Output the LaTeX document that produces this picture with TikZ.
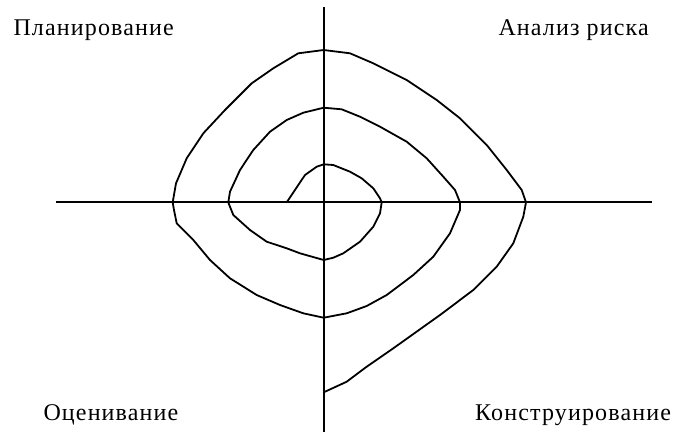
\documentclass[tikz,border=0pt]{standalone}
\usepackage{fontspec}
\setmainfont{Liberation Serif}
\newfontfamily\lblfont[LetterSpace=4.8]{Liberation Serif}
\begin{document}
\begin{tikzpicture}[x=1pt,y=-1pt,
  axis/.style={line width=1.7pt},
  spir/.style={line width=1.8pt,line join=round,line cap=round},
  lbl/.style={font=\lblfont\fontsize{24}{28}\selectfont,inner sep=0pt,anchor=base west}]
\useasboundingbox (0,0) rectangle (674,432);
\coordinate (hl) at (56,202.3);
\coordinate (hr) at (652,202.3);
\coordinate (vt) at (323.7,7);
\coordinate (vb) at (323.7,432);
\draw[axis] (hl) -- (hr);
\draw[axis] (vt) -- (vb);
\draw[spir] (286.7,202.3) -- (305,175) -- (316.7,166.7) -- (323.7,164.3) -- (333.3,165) -- (350,171.7) -- (361.7,178.3) -- (373.3,188.3) -- (380,198.3) -- (381.7,202.3)
 -- (380,213.3) -- (373.3,226.7) -- (360,241.7) -- (343.3,253.3) -- (333.3,257.7) -- (323.7,260) -- (300,253.3) -- (286.7,248.3) -- (266.7,241.7) -- (250,230) -- (233.3,215) -- (229.3,205) -- (228.3,202.3)
 -- (230,191.7) -- (240,170) -- (253.3,150) -- (270,131.7) -- (286.7,120) -- (303.3,112.7) -- (323.7,107.7) -- (341.7,109.3) -- (360,116.7) -- (380,126.7) -- (406.7,141.7) -- (426.7,158.3) -- (443.3,176.7) -- (455,190) -- (460,202.3)
 -- (460,210) -- (450,233.3) -- (433.3,256.7) -- (413.3,275) -- (386.7,295) -- (366.7,306) -- (346.7,313.3) -- (323.7,317.7) -- (303.3,313.3) -- (280,305) -- (256.7,295) -- (230,278.3) -- (210,260) -- (193.3,240) -- (176.7,223.3) -- (174,210) -- (172.7,202.3)
 -- (176,183.3) -- (186.7,158.3) -- (203.3,133.3) -- (225,110) -- (251.7,83.3) -- (273.3,68.3) -- (298.3,53.3) -- (323.7,50) -- (350,53.3) -- (373.3,63.3) -- (406.7,80) -- (436.7,100) -- (460,118.3) -- (486.7,145) -- (506.7,170) -- (521.7,190) -- (526,202.3)
 -- (523.3,216.7) -- (513.3,243.3) -- (496.7,266.7) -- (473.3,290) -- (440,315) -- (393.3,348.3) -- (366.7,366.7) -- (346.7,381.7) -- (323.7,392.3);
\node[lbl] (plan) at (13.3,35) {Планирование};
\node[lbl] (risk) at (498.3,35) {Анализ риска};
\node[lbl] (eval) at (43.3,420) {Оценивание};
\node[lbl] (cons) at (475,420) {Конструирование};
\end{tikzpicture}
\end{document}
